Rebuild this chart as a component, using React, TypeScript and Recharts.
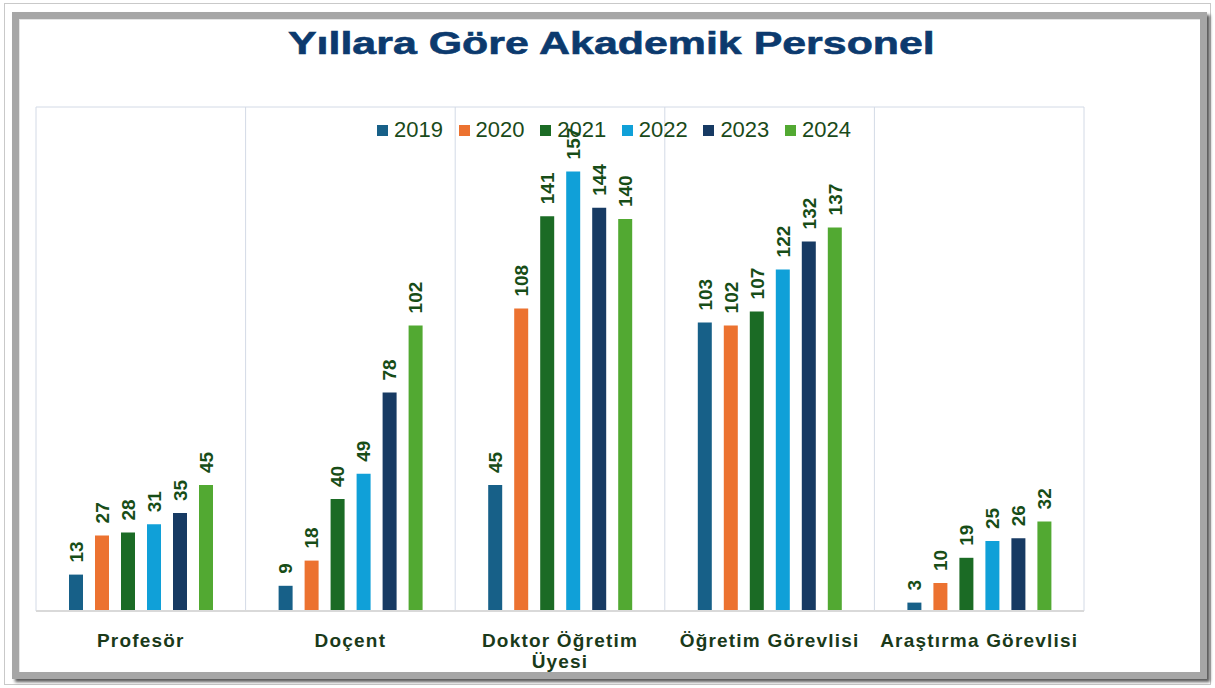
import { BarChart, Bar, XAxis, YAxis, CartesianGrid, Legend, LabelList } from 'recharts'

const categories = ['Profesör', 'Doçent', 'Doktor Öğretim Üyesi', 'Öğretim Görevlisi', 'Araştırma Görevlisi']
const years = ['2019', '2020', '2021', '2022', '2023', '2024']
const colors = ['#176088', '#ec7230', '#1b6b25', '#10a0d8', '#173a63', '#52a932']

const v2019 = [13, 9, 45, 103, 3]
const v2020 = [27, 18, 108, 102, 10]
const v2021 = [28, 40, 141, 107, 19]
const v2022 = [31, 49, 157, 122, 25]
const v2023 = [35, 78, 144, 132, 26]
const v2024 = [45, 102, 140, 137, 32]
const seriesValues = [v2019, v2020, v2021, v2022, v2023, v2024]

const data = categories.map((name, i) => {
	const row: Record<string, string | number> = { name }
	years.forEach((y, j) => {
		row[y] = seriesValues[j][i]
	})
	return row
})

const labelColor = '#174d17'
const font = '"Liberation Sans", Arial, sans-serif'
const tickFontSize = 19
const tickSpacing = 1.2

// measure label words so long category names wrap like the original
let ctx: CanvasRenderingContext2D | null = null
const measure = (s: string) => {
	if (!ctx) {
		ctx = document.createElement('canvas').getContext('2d')
	}
	if (!ctx) return s.length * 11
	ctx.font = `bold ${tickFontSize}px ${font}`
	return ctx.measureText(s).width + s.length * tickSpacing
}

const wrapLabel = (text: string, maxWidth: number) => {
	const words = text.split(' ')
	const lines: string[] = []
	let cur = ''
	words.forEach((w) => {
		const next = cur ? cur + ' ' + w : w
		if (cur && measure(next) > maxWidth) {
			lines.push(cur)
			cur = w
		} else {
			cur = next
		}
	})
	if (cur) lines.push(cur)
	return lines
}

// grid lines on the category band boundaries
const boundaryGenerator = (props: any) => {
	const offset = props?.offset
	if (!offset) return []
	const bw = offset.width / categories.length
	const pts: number[] = []
	for (let i = 0; i <= categories.length; i++) pts.push(offset.left + i * bw)
	return pts
}

const BarLabel = (props: any) => {
	const { x, y, width, value } = props
	const cx = x + width / 2
	const ty = y - 12
	return (
		<text
			x={cx}
			y={ty}
			dy='0.36em'
			transform={`rotate(-90, ${cx}, ${ty})`}
			textAnchor='start'
			fill={labelColor}
			fontSize={19}
			fontWeight='bold'
			fontFamily={font}
		>
			{value}
		</text>
	)
}

const CategoryTick = (props: any) => {
	const { x, y, payload } = props
	const lines = wrapLabel(String(payload.value), 200)
	return (
		<text
			x={x}
			y={y + 28}
			textAnchor='middle'
			fill='#1a3a1a'
			fontSize={tickFontSize}
			fontWeight='bold'
			fontFamily={font}
			letterSpacing={tickSpacing}
		>
			{lines.map((l, i) => (
				<tspan key={i} x={x} dy={i === 0 ? 0 : 21}>
					{l}
				</tspan>
			))}
		</text>
	)
}

const LegendContent = () => (
	<div style={{ display: 'flex', fontFamily: font, fontSize: 22, color: '#1a4a1a' }}>
		{years.map((y, i) => (
			<div key={y} style={{ width: 81.6, display: 'flex', alignItems: 'center' }}>
				<span style={{ width: 11, height: 11, background: colors[i], marginRight: 6, display: 'inline-block' }} />
				<span>{y}</span>
			</div>
		))}
	</div>
)

const App = () => {
	return (
		<div style={{ position: 'absolute', left: 0, top: 0, width: 1215, height: 688, background: '#fff', overflow: 'hidden' }}>
			<div style={{ position: 'absolute', left: 4, top: 3, width: 1205, height: 680, border: '1px solid #c9c9c9' }} />
			<div
				style={{
					position: 'absolute',
					left: 12,
					top: 12,
					width: 1181,
					height: 653,
					border: '7px solid #a6a6a6',
					boxShadow: 'inset 1px 1px 0 #e4e4e4, 3px 3px 3px rgba(0,0,0,0.65)',
				}}
			/>
			<svg width={1215} height={80} style={{ position: 'absolute', left: 0, top: 0 }}>
				<text
					transform='translate(288, 54) scale(1.32, 1)'
					textLength={490}
					lengthAdjust='spacingAndGlyphs'
					fontSize={32}
					fontWeight='bold'
					fontFamily={font}
					fill='#0c3a6e'
					stroke='#0c3a6e'
					strokeWidth={0.6}
				>
					Yıllara Göre Akademik Personel
				</text>
			</svg>
			<div style={{ position: 'absolute', left: 0, top: 0 }}>
				<BarChart
					width={1215}
					height={688}
					data={data}
					margin={{ top: 107, right: 131, bottom: 17, left: 36 }}
					barSize={14}
					barGap={12}
				>
					<CartesianGrid
						stroke='#d3dae6'
						strokeWidth={1}
						verticalCoordinatesGenerator={boundaryGenerator}
						horizontalValues={[180]}
					/>
					<XAxis
						dataKey='name'
						axisLine={{ stroke: '#d9d9d9', strokeWidth: 2 }}
						tickLine={false}
						interval={0}
						height={60}
						tick={<CategoryTick />}
					/>
					<YAxis domain={[0, 180]} ticks={[0, 180]} hide />
					<Legend
						layout='horizontal'
						verticalAlign='middle'
						align='center'
						content={<LegendContent />}
						wrapperStyle={{ top: 117, left: 377, width: 500, height: 24 }}
					/>
					{years.map((y, i) => (
						<Bar key={y} dataKey={y} fill={colors[i]} isAnimationActive={false}>
							<LabelList dataKey={y} content={<BarLabel />} />
						</Bar>
					))}
				</BarChart>
			</div>
		</div>
	)
}

export default App
